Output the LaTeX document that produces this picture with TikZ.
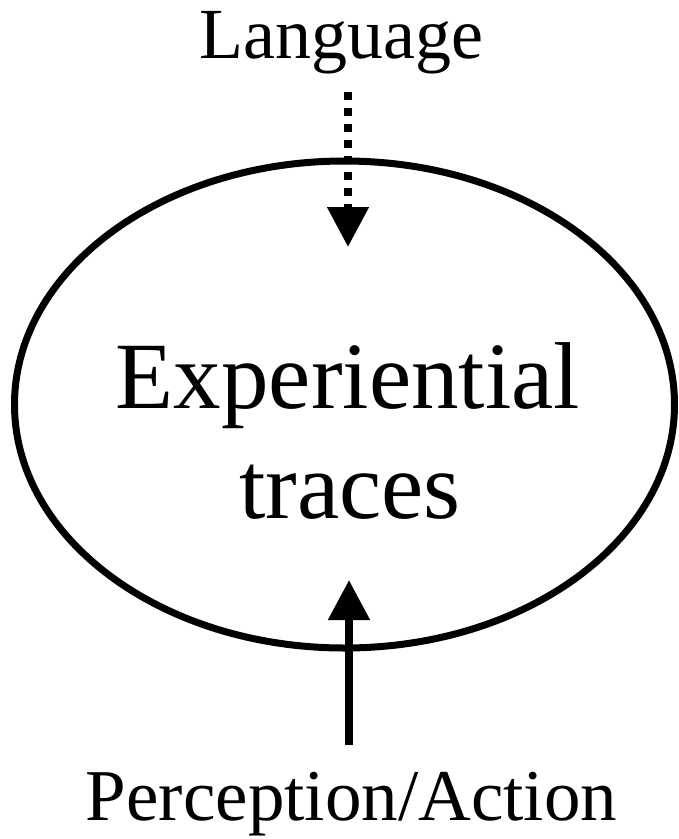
\documentclass[tikz,border=0pt]{standalone}
\usepackage{fontspec}
\setmainfont{Liberation Serif}
\usetikzlibrary{shapes.geometric,arrows.meta}

\begin{document}
\begin{tikzpicture}[x=1pt,y=-1pt,
	trace/.style={draw,ellipse,line width=7pt,minimum width=660pt,minimum height=487pt,inner sep=0pt},
	word/.style={anchor=base,inner sep=0pt},
	flow/.style={line width=8pt,-{Triangle[length=40pt,width=40pt]}}]
%
	\useasboundingbox (0,0) rectangle (679,839);
	\node[trace] (ell) at (344.5,404.5) {};
	\node[word,font=\fontsize{95}{110}\selectfont] (exp) at (348,408) {Experiential};
	\node[word,font=\fontsize{95}{110}\selectfont] (trc) at (350,518) {traces};
	\node[word,font=\fontsize{72}{80}\selectfont] (lang) at (341,58) {Language};
	\node[word,font=\fontsize{73}{80}\selectfont] (perc) at (351.5,820) {Perception/Action};
	\coordinate (top) at (348,247);
	\coordinate (bot) at (349,580);
%
	\draw[flow,dash pattern=on 8pt off 8pt,shorten <=18pt] (lang.south -| top) -- (top);
	\draw[flow,shorten <=26pt] (perc.north -| bot) -- (bot);
%
\end{tikzpicture}
\end{document}
